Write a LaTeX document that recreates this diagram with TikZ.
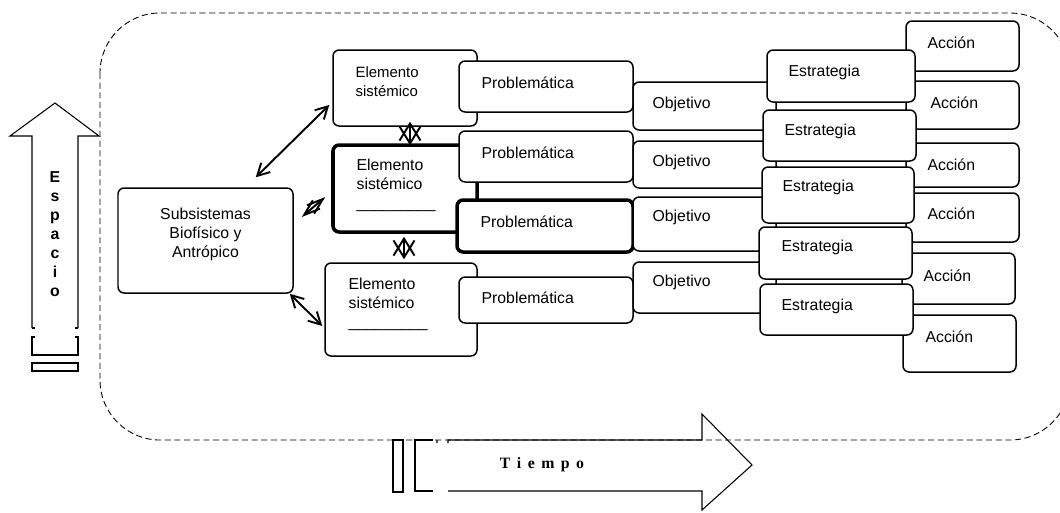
\documentclass[tikz,border=0pt]{standalone}
\usepackage{fontspec}
\setmainfont{Liberation Sans}
\newfontfamily\tiempofont[LetterSpace=16]{Liberation Serif}
\usetikzlibrary{arrows.meta,fit}

\tikzset{
	box/.style={draw,fill=white,rounded corners=3.5pt,line width=.85pt,inner sep=0pt},
	heavy/.style={box,line width=2pt},
	tag/.style={anchor=west,inner sep=0pt,align=left,font=\fontsize{9}{10.8}\selectfont},
	says/.style n args={3}{label={[tag,shift={(#1,#2)}]north west:#3}},
	link/.style 2 args={line width=1.1pt,{Straight Barb[length=#1,width=#2]}-{Straight Barb[length=#1,width=#2]}},
	frontier/.style={line width=.5pt,dash pattern=on 3.5pt off 2pt,rounded corners=1.2cm},
	outline/.style={line width=.6pt}
}

\begin{document}
\begin{tikzpicture}[x=.02cm,y=-.02cm]
\useasboundingbox (0,0) rectangle (1060,512);
\draw[frontier] (100,13) rectangle (1070,440);
% Espacio
\draw[outline] (32,328)--(32,136)--(10,136)--(55,103)--(99,136)--(78,136)--(78,328);
\draw[outline] (32,328)--(35,328) (78,328)--(75,328);
\draw[outline] (35,337)--(32,337)--(32,355)--(78,355)--(78,337)--(75,337);
\draw[outline] (32,363) rectangle (78,371);
\node[font=\bfseries\fontsize{9}{10.8}\selectfont,align=center,inner sep=0pt] (espacio) at (55,234.5) {E\\s\\p\\a\\c\\i\\o};
% Tiempo
\draw[outline] (393,440) rectangle (403,492);
\draw[outline] (433,440)--(415,440)--(415,491)--(433,491);
\draw[outline] (437,440)--(437,443) (448,443)--(448,440)--(702,440)--(702,414)--(752,465)--(702,510)--(702,491)--(448,491);
\node[font=\tiempofont\bfseries\fontsize{9}{10}\selectfont] (tiempo) at (542,465) {T i e m p o};
% subsistemas
\node[box,fit={(118,188)(293,293)},label={[tag,anchor=north,align=center,shift={(0,20)}]north:Subsistemas\\Biofísico y\\Antrópico}] (sub) {};
% elementos
\node[box,fit={(333,50)(477,126)},label={[tag,font=\fontsize{8.5}{10.8}\selectfont,shift={(23,32.5)}]north west:Elemento\\sistémico}] (e1) {};
\node[heavy,fit={(333,145)(477,232)},label={[tag,shift={(25,42)}]north west:Elemento\\sistémico\\\_\_\_\_\_\_\_\_\_}] (e2) {};
\node[box,fit={(325,263)(477,356)},label={[tag,shift={(24,42)}]north west:Elemento\\sistémico\\\_\_\_\_\_\_\_\_\_}] (e3) {};
% problematicas
\node[box,fit={(459,61)(633,112)},says={23}{22}{Problemática}] (p1) {};
\node[box,fit={(459,131)(633,182)},says={23}{22}{Problemática}] (p2) {};
\node[heavy,fit={(457,200)(633,252)},says={25}{23}{Problemática}] (p3) {};
\node[box,fit={(459,277)(633,323)},says={23}{21}{Problemática}] (p4) {};
% objetivos
\node[box,fit={(633,82)(776,130)},says={20}{23}{Objetivo}] (o1) {};
\node[box,fit={(633,141)(776,188)},says={20}{22}{Objetivo}] (o2) {};
\node[box,fit={(633,197)(776,251)},says={20}{21}{Objetivo}] (o3) {};
\node[box,fit={(633,262)(776,313)},says={20}{21}{Objetivo}] (o4) {};
% acciones
\node[box,fit={(906,21)(1019,71)},says={22}{22}{Acción}] (a1) {};
\node[box,fit={(906,81)(1019,129)},says={25}{22}{Acción}] (a2) {};
\node[box,fit={(906,143)(1019,187)},says={22}{22}{Acción}] (a3) {};
\node[box,fit={(906,193)(1019,242)},says={22}{21}{Acción}] (a4) {};
\node[box,fit={(902,253)(1015,304)},says={22}{23}{Acción}] (a5) {};
\node[box,fit={(903,315)(1016,372)},says={23}{22}{Acción}] (a6) {};
% estrategias
\node[box,fit={(767,50)(915,102)},says={22}{23}{Estrategia}] (s1) {};
\node[box,fit={(763,110)(916,161)},says={22}{22}{Estrategia}] (s2) {};
\node[box,fit={(762,167)(914,223)},says={21}{21}{Estrategia}] (s3) {};
\node[box,fit={(759,227)(912,279)},says={23}{21}{Estrategia}] (s4) {};
\node[box,fit={(760,284)(913,335)},says={22}{23}{Estrategia}] (s5) {};
% relaciones
\draw[link={2.4mm}{2.6mm}] ([shift={(-38,-10)}]sub.north east)--([shift={(-3,17)}]e1.west);
\draw[link={2.4mm}{2.6mm}] ([shift={(-4,0)}]sub.south east)--([shift={(-2,16.5)}]e3.west);
\draw[link={3.25mm}{2.2mm}] ([shift={(8,-23.5)}]sub.east)--([shift={(-6,8.5)}]e2.west);
\draw[link={3.4mm}{4.2mm}] ([shift={(5,-5)}]e1.south)--([shift={(5,2)}]e2.north);
\draw[link={3.4mm}{4.2mm}] ([shift={(-1,3)}]e2.south)--([shift={(3,-3)}]e3.north);
\end{tikzpicture}
\end{document}
